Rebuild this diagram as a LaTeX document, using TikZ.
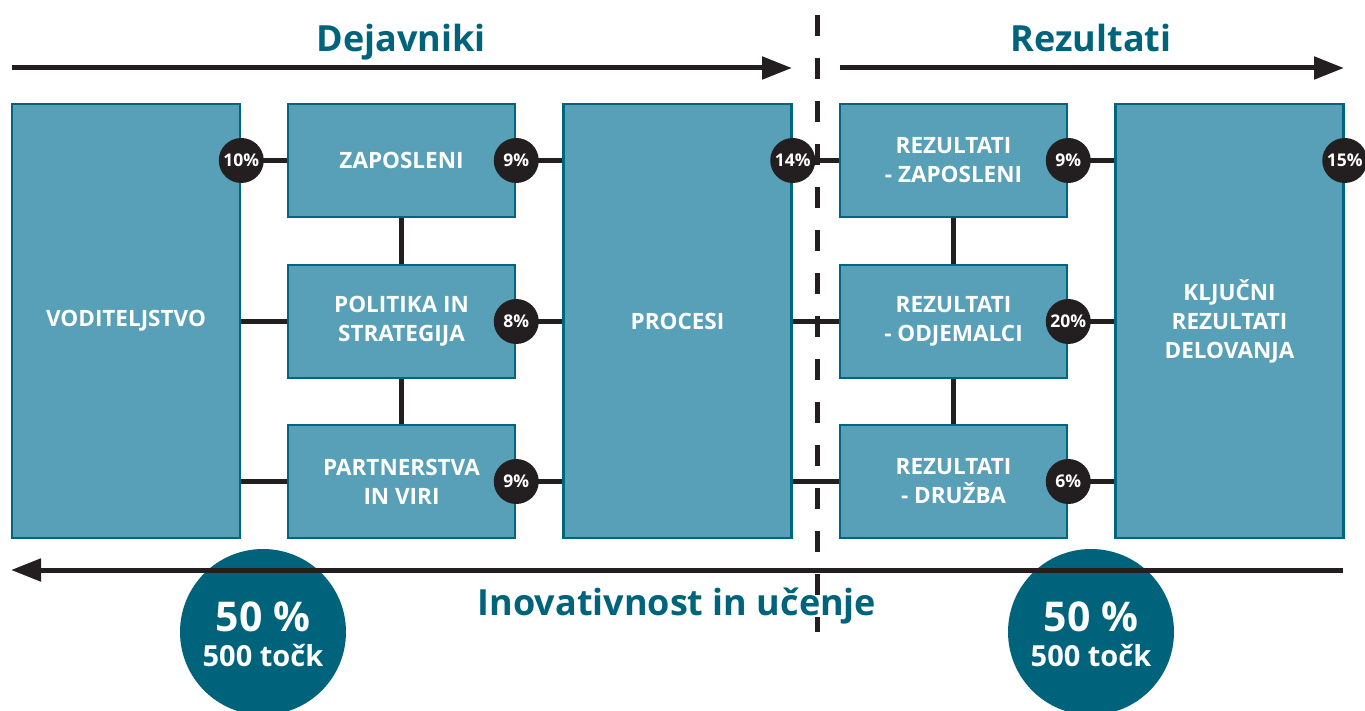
\documentclass[tikz,border=0pt]{standalone}
\usepackage{fontspec}
\setmainfont{Open Sans}
\usetikzlibrary{arrows.meta}
\definecolor{boxfill}{HTML}{58A0B8}
\definecolor{boxline}{HTML}{006580}
\definecolor{teal}{HTML}{00637C}
\definecolor{ink}{HTML}{231F20}
\tikzset{
  box/.style={draw=boxline, fill=boxfill, line width=2.5pt, inner sep=0pt, text=white,
    font=\fontsize{22.5}{29}\selectfont\bfseries, align=center},
  small/.style={box, minimum width=227pt, minimum height=113pt},
  tall/.style={box, minimum width=228pt, minimum height=434pt},
  badge/.style={circle, fill=ink, minimum size=45pt, inner sep=0pt, text=white,
    font=\fontsize{17.5}{17.5}\selectfont\bfseries},
  conn/.style={draw=ink, line width=5pt},
  arr/.style={draw=ink, line width=5pt, -{Triangle[length=30pt,width=22pt]}},
  big/.style={circle, fill=teal, minimum size=166pt, inner sep=0pt, text=white, align=center},
  head/.style={text=teal, font=\fontsize{36}{36}\selectfont\bfseries, inner sep=0pt}
}
\begin{document}
\begin{tikzpicture}[x=1pt,y=-1pt]
\useasboundingbox (0,0) rectangle (1365,711);
% big circles
\node[big] (c1) at (263,632) {};
\node[big] (c2) at (1091,632) {};
% boxes
\node[tall] (vod) at (126,321) {VODITELJSTVO};
\node[small] (zap) at (401.5,160.5) {ZAPOSLENI};
\node[small] (pol) at (401.5,321.5) {POLITIKA IN\\STRATEGIJA};
\node[small] (par) at (401.5,481.5) {PARTNERSTVA\\IN VIRI};
\node[tall] (pro) at (677.5,321) {PROCESI};
\node[small] (rz) at (953.5,160.5) {REZULTATI\\- ZAPOSLENI};
\node[small] (ro) at (953.5,321.5) {REZULTATI\\- ODJEMALCI};
\node[small] (rd) at (953.5,481.5) {REZULTATI\\- DRUŽBA};
\node[tall] (klj) at (1229.5,321) {KLJUČNI\\REZULTATI\\DELOVANJA};
% connectors
\draw[conn] (vod.east |- zap.west) -- (zap.west);
\draw[conn] (vod.east |- pol.west) -- (pol.west);
\draw[conn] (vod.east |- par.west) -- (par.west);
\draw[conn] (zap.east) -- (pro.west |- zap.east);
\draw[conn] (pol.east) -- (pro.west |- pol.east);
\draw[conn] (par.east) -- (pro.west |- par.east);
\draw[conn] (pro.east |- rz.west) -- (rz.west);
\draw[conn] (pro.east |- ro.west) -- (ro.west);
\draw[conn] (pro.east |- rd.west) -- (rd.west);
\draw[conn] (rz.east) -- (klj.west |- rz.east);
\draw[conn] (ro.east) -- (klj.west |- ro.east);
\draw[conn] (rd.east) -- (klj.west |- rd.east);
\draw[conn] (zap.south) -- (pol.north);
\draw[conn] (pol.south) -- (par.north);
\draw[conn] (rz.south) -- (ro.north);
\draw[conn] (ro.south) -- (rd.north);
% badges
\node[badge] (b1) at (vod.east |- zap.east) {10\%};
\node[badge] (b2) at (zap.east) {9\%};
\node[badge] (b3) at (pro.east |- zap.east) {14\%};
\node[badge] (b4) at (rz.east) {9\%};
\node[badge] (b5) at (klj.east |- rz.east) {15\%};
\node[badge] (b6) at (pol.east) {8\%};
\node[badge] (b7) at (ro.east) {20\%};
\node[badge] (b8) at (par.east) {9\%};
\node[badge] (b9) at (rd.east) {6\%};
% arrows
\coordinate (a1s) at (12,68);
\coordinate (a1e) at (792,68);
\coordinate (a2s) at (840,68);
\coordinate (a2e) at (1344,68);
\coordinate (a3s) at (1343,570);
\coordinate (a3e) at (11,570);
\draw[arr] (a1s) -- (a1e);
\draw[arr] (a2s) -- (a2e);
\draw[arr] (a3s) -- (a3e);
% dashed divider
\coordinate (d1) at (817,15);
\coordinate (d2) at (817,632);
\draw[draw=ink, line width=5pt, dash pattern=on 21pt off 22pt] (d1) -- (d2);
% headings
\node[head, anchor=base] (h1) at (401,52) {Dejavniki};
\node[head, anchor=base] (h2) at (1091,52) {Rezultati};
\node[head, anchor=base] (h3) at (677,615) {Inovativnost in učenje};
% circle texts
\node[text=white, font=\fontsize{41}{41}\selectfont\bfseries, anchor=base, inner sep=0pt] (t1) at (263,631) {50 \%};
\node[text=white, font=\fontsize{29}{29}\selectfont\bfseries, anchor=base, inner sep=0pt] (t2) at (263,666) {500 točk};
\node[text=white, font=\fontsize{41}{41}\selectfont\bfseries, anchor=base, inner sep=0pt] (t3) at (1091,631) {50 \%};
\node[text=white, font=\fontsize{29}{29}\selectfont\bfseries, anchor=base, inner sep=0pt] (t4) at (1091,666) {500 točk};
\end{tikzpicture}
\end{document}
